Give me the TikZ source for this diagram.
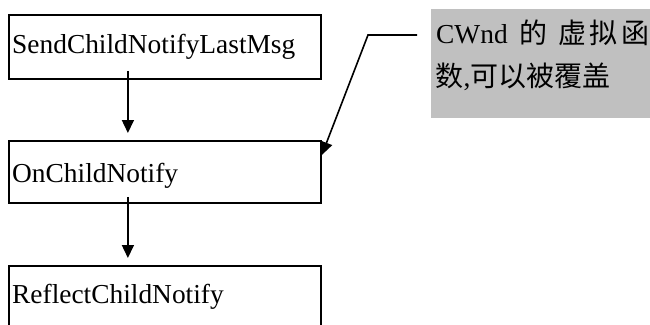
\documentclass[tikz,border=0pt]{standalone}
\usepackage{fontspec}
\setmainfont{Liberation Serif}
\newfontfamily\cjk{Noto Sans CJK SC}
\usetikzlibrary{arrows.meta}
\definecolor{notegray}{RGB}{192,192,192}
\newcommand\zhtext[1]{{\cjk\fontsize{28}{34}\selectfont #1}}
\begin{document}
\begin{tikzpicture}[x=1pt,y=-1pt,
  box/.style={draw, line width=1.8pt, minimum width=312pt, inner sep=0pt, anchor=north west},
  lbl/.style={anchor=base west, inner sep=0pt, font=\fontsize{27.4}{33}\selectfont},
  arr/.style={line width=1.6pt, -{Triangle[length=13pt,width=12pt]}}]
\useasboundingbox (0,0) rectangle (650,324);
% note box
\node[fill=notegray, minimum width=230pt, minimum height=109pt, anchor=north west, inner sep=0pt] (note) at (431,9) {};
\node[lbl] (t1) at (436,43) {CWnd\hspace{12pt}\zhtext{的}\hspace{11pt}\zhtext{虚}\hspace{3pt}\zhtext{拟}\hspace{4pt}\zhtext{函}};
\node[lbl] (t2) at (435.5,86) {\zhtext{数},\zhtext{可以被覆盖}};
% boxes
\node[box, minimum height=64pt] (b1) at (8,14) {};
\node[box, minimum height=62pt] (b2) at (8,140) {};
\node[box, minimum height=70pt] (b3) at (8,265) {};
\node[lbl] (l1) at (12,53) {SendChildNotifyLastMsg};
\node[lbl] (l2) at (12,182) {OnChildNotify};
\node[lbl] (l3) at (12,303) {ReflectChildNotify};
% connectors
\draw[arr] ([xshift=-37pt,yshift=9pt]b1.south) -- ([xshift=-37pt,yshift=7pt]b2.north);
\draw[arr] ([xshift=-37pt,yshift=7pt]b2.south) -- ([xshift=-37pt,yshift=7pt]b3.north);
\coordinate (c0) at (417,35);
\coordinate (c1) at (368,35);
\draw[arr] (c0) -- (c1) -- ([yshift=-15pt]b2.north east);
\end{tikzpicture}
\end{document}
